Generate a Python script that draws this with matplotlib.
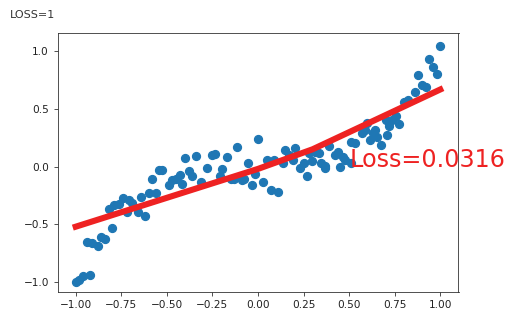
import matplotlib
matplotlib.use("Agg")
import matplotlib.pyplot as plt

# scatter points
x = [-1.00, -0.98, -0.96, -0.94, -0.92, -0.91, -0.88, -0.86, -0.84, -0.82,
     -0.80, -0.79, -0.76, -0.74, -0.72, -0.71, -0.69, -0.66, -0.64, -0.62,
     -0.60, -0.58, -0.56, -0.545, -0.525, -0.49, -0.47, -0.45, -0.43, -0.415,
     -0.40, -0.38, -0.36, -0.34, -0.315, -0.28, -0.255, -0.235, -0.21, -0.195,
     -0.17, -0.15, -0.13, -0.115, -0.09, -0.075, -0.055, -0.035, -0.015, 0.00,
     0.025, 0.05, 0.07, 0.09, 0.11, 0.135, 0.15, 0.17, 0.19, 0.205,
     0.23, 0.25, 0.27, 0.28, 0.295, 0.315, 0.335, 0.345, 0.365, 0.37,
     0.39, 0.42, 0.44, 0.45, 0.465, 0.48, 0.51, 0.51, 0.53, 0.57,
     0.585, 0.60, 0.615, 0.63, 0.64, 0.655, 0.675, 0.70, 0.71, 0.72,
     0.735, 0.755, 0.775, 0.80, 0.825, 0.86, 0.88, 0.90, 0.92, 0.94,
     0.96, 0.98, 1.00]
y = [-1.00, -0.98, -0.95, -0.655, -0.94, -0.66, -0.685, -0.61, -0.63, -0.37,
     -0.53, -0.33, -0.32, -0.275, -0.39, -0.29, -0.315, -0.39, -0.26, -0.43,
     -0.225, -0.11, -0.225, -0.03, -0.03, -0.16, -0.12, -0.11, -0.07, -0.15,
     0.07, -0.04, -0.08, 0.09, -0.13, -0.01, 0.10, 0.11, -0.085, -0.02,
     0.085, -0.11, -0.11, 0.17, -0.115, -0.11, 0.03, -0.16, -0.06, 0.235,
     -0.13, 0.06, -0.20, 0.06, -0.22, 0.03, 0.14, 0.10, 0.06, 0.165,
     -0.015, 0.035, -0.085, 0.115, 0.045, 0.13, 0.115, 0.03, 0.005, -0.015,
     0.18, 0.10, 0.13, 0.00, 0.085, 0.06, 0.215, 0.03, 0.20, 0.29,
     0.315, 0.38, 0.23, 0.29, 0.315, 0.26, 0.185, 0.405, 0.27, 0.35,
     0.40, 0.435, 0.37, 0.56, 0.575, 0.645, 0.79, 0.71, 0.69, 0.93,
     0.86, 0.805, 1.045]

# fitted line (prediction)
line_x = [-1.0, -0.4, 0.0, 0.3, 1.0]
line_y = [-0.52, -0.22, -0.02, 0.15, 0.667]

loss_text = "Loss=0.0316"
header = "LOSS=1"

fig = plt.figure(figsize=(5.15, 3.21), dpi=100)
ax = fig.add_axes([57.5 / 515, 1 - 292 / 321, (458.5 - 57.5) / 515, (292 - 32.5) / 321])

ax.scatter(x, y, s=32, color="#1f77b4")
ax.plot(line_x, line_y, "r-", lw=4.4, color="#ee2222")
ax.text(0.5, 0, loss_text, fontdict={"size": 17.2, "color": "#ee2222"})

ax.set_xlim(-1.1, 1.1)
ax.set_ylim(-1.085, 1.16)
ax.set_xticks([-1.0, -0.75, -0.5, -0.25, 0.0, 0.25, 0.5, 0.75, 1.0])
ax.set_yticks([-1.0, -0.5, 0.0, 0.5, 1.0])
ax.tick_params(labelsize=7.6, length=2.6, width=0.6, color="#333333", labelcolor="#222222")
for s in ax.spines.values():
    s.set_linewidth(0.6)
    s.set_color("#333333")

fig.text(10 / 515, 1 - 15 / 321, header, fontsize=8, color="#333333", va="center", ha="left")

plt.savefig("out.png", dpi=100)
